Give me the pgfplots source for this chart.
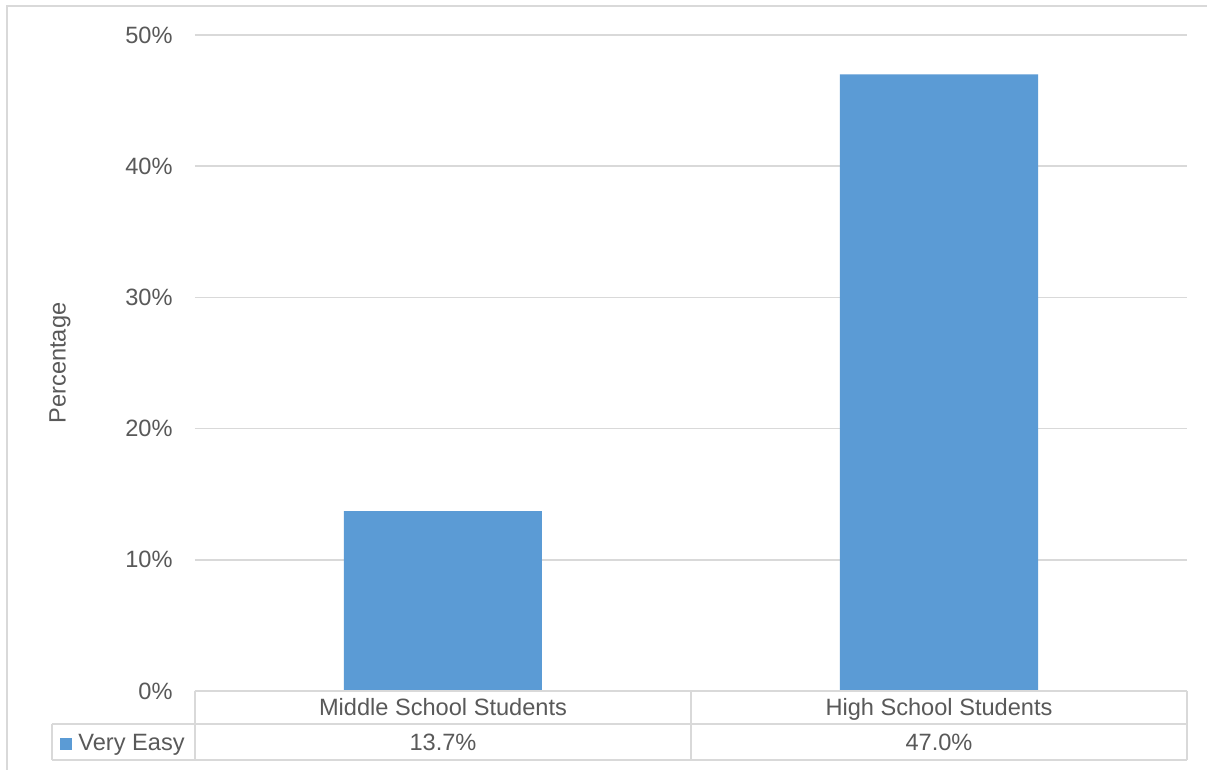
\documentclass[border=0pt]{standalone}
\usepackage{pgfplots}
\pgfplotsset{compat=1.18}
\usepackage{fontspec}
\setmainfont{Liberation Sans}
\definecolor{barblue}{HTML}{5B9BD5}
\definecolor{gridgray}{HTML}{D9D9D9}
\definecolor{txtgray}{HTML}{595959}
\begin{document}
\begin{tikzpicture}
\fontsize{11.8}{14}\selectfont
\path[use as bounding box] (-97.5pt,-39.5pt) rectangle (506pt,345.5pt);
\fill[white] (-97.5pt,-39.5pt) rectangle (506pt,345.5pt);
% outer chart frame (partly cropped)
\draw[gridgray, line width=0.8pt] (-94pt,-45pt) -- (-94pt,342.5pt) -- (510pt,342.5pt);
\begin{axis}[
  at={(0pt,0pt)}, anchor=south west,
  scale only axis, width=496pt, height=328pt,
  xmin=-0.5, xmax=1.5, ymin=0, ymax=50,
  axis line style={draw=none},
  ytick={0,10,20,30,40,50},
  yticklabel={\pgfmathprintnumber{\tick}\%},
  /pgf/number format/assume math mode=true,
  ymajorgrids, grid style={gridgray, line width=0.8pt},
  major tick length=0pt,
  xtick={0,1},
  xticklabels={Middle School Students, High School Students},
  xticklabel style={anchor=base, yshift=-12.5pt, inner sep=0pt},
  yticklabel style={anchor=east, inner sep=0pt, xshift=-11pt},
  tick label style={text=txtgray, font=\fontsize{11.8}{14}\selectfont},
  ylabel={Percentage},
  ylabel style={at={(axis description cs:0,0.5)}, anchor=center, yshift=67.5pt, text=txtgray, font=\fontsize{11.8}{14}\selectfont},
  clip=false,
]
\addplot[ybar, bar width=99pt, fill=barblue, draw=none] coordinates {(0,13.7) (1,47.0)};
\node[text=txtgray, anchor=base, inner sep=0pt] at ([yshift=-30pt]axis cs:0,0) {13.7\%};
\node[text=txtgray, anchor=base, inner sep=0pt] at ([yshift=-30pt]axis cs:1,0) {47.0\%};
\end{axis}
% data table
\draw[gridgray, line width=0.8pt]
  (0pt,0pt) -- (496pt,0pt)
  (0pt,0pt) -- (0pt,-34.5pt)
  (248pt,0pt) -- (248pt,-34.5pt)
  (496pt,0pt) -- (496pt,-34.5pt)
  (-71.5pt,-16.5pt) -- (496pt,-16.5pt)
  (-71.5pt,-34.5pt) -- (496pt,-34.5pt)
  (-71.5pt,-16.5pt) -- (-71.5pt,-34.5pt);
\fill[barblue] (-67.5pt,-29.5pt) rectangle ++(6pt,6pt);
\node[text=txtgray, anchor=base west, inner sep=0pt] at (-58.5pt,-30pt) {Very Easy};
\end{tikzpicture}
\end{document}
